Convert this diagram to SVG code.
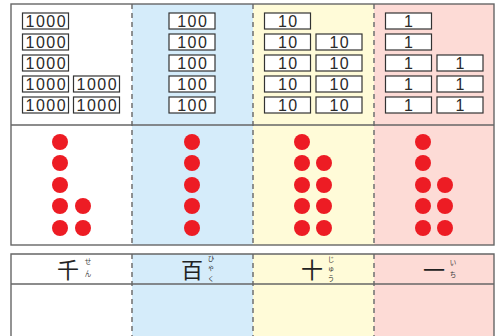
<svg xmlns="http://www.w3.org/2000/svg" width="496" height="336" viewBox="0 0 496 336">
<style>
.bx{fill:#fff;stroke:#333;stroke-width:1.2}
.num{font-family:"Liberation Sans",Arial,sans-serif;font-size:16px;fill:#2a2a2a;text-anchor:middle;letter-spacing:1.5px}
.dot{fill:#ed1c24}
.frame{fill:none;stroke:#666;stroke-width:1.4}
.dash{stroke:#777;stroke-width:1.6;stroke-dasharray:5 4;fill:none}
.kanji{font-family:"Noto Sans CJK JP",sans-serif;font-size:22px;fill:#222;text-anchor:middle}
.furi{font-family:"Noto Sans CJK JP",sans-serif;font-size:6.5px;fill:#333;text-anchor:middle}
</style>
<defs>
<rect id="b" class="bx" width="46" height="16"/>
<circle id="d" class="dot" r="8"/>
</defs>
<rect width="496" height="336" fill="#fff"/>
<g id="fills">
<rect x="132" y="4" width="121" height="241" fill="#d5ecfa"/>
<rect x="253" y="4" width="121" height="241" fill="#fffbd8"/>
<rect x="374" y="4" width="120" height="241" fill="#fddbd6"/>
<rect x="132" y="254" width="121" height="82" fill="#d5ecfa"/>
<rect x="253" y="254" width="121" height="82" fill="#fffbd8"/>
<rect x="374" y="254" width="120" height="82" fill="#fddbd6"/>
</g>
<g id="connectors">
<line class="dash" x1="132" y1="4" x2="132" y2="245"/>
<line class="dash" x1="253" y1="4" x2="253" y2="245"/>
<line class="dash" x1="374" y1="4" x2="374" y2="245"/>
<line class="dash" x1="132" y1="254" x2="132" y2="336"/>
<line class="dash" x1="253" y1="254" x2="253" y2="336"/>
<line class="dash" x1="374" y1="254" x2="374" y2="336"/>
<rect class="frame" x="11" y="4" width="483" height="241"/>
<line class="frame" x1="11" y1="125" x2="494" y2="125"/>
<path class="frame" d="M11 336V254H494V336"/>
<line class="frame" x1="11" y1="284" x2="494" y2="284"/>
</g>
<g id="thousands">
<use href="#b" x="22.5" y="13"/><text class="num" x="46.3" y="27">1000</text>
<use href="#b" x="22.5" y="34"/><text class="num" x="46.3" y="48">1000</text>
<use href="#b" x="22.5" y="55"/><text class="num" x="46.3" y="69">1000</text>
<use href="#b" x="22.5" y="76"/><text class="num" x="46.3" y="90">1000</text>
<use href="#b" x="22.5" y="97"/><text class="num" x="46.3" y="111">1000</text>
<use href="#b" x="73.5" y="76"/><text class="num" x="97.3" y="90">1000</text>
<use href="#b" x="73.5" y="97"/><text class="num" x="97.3" y="111">1000</text>
<use href="#d" x="60" y="142"/><use href="#d" x="60" y="163"/><use href="#d" x="60" y="185"/><use href="#d" x="60" y="206"/><use href="#d" x="60" y="228"/>
<use href="#d" x="83" y="206"/><use href="#d" x="83" y="228"/>
<text class="kanji" x="68" y="278">千</text>
<text class="furi" x="88" y="264">せ</text>
<text class="furi" x="88" y="276">ん</text>
</g>
<g id="hundreds">
<use href="#b" x="169" y="13"/><text class="num" x="192.8" y="27">100</text>
<use href="#b" x="169" y="34"/><text class="num" x="192.8" y="48">100</text>
<use href="#b" x="169" y="55"/><text class="num" x="192.8" y="69">100</text>
<use href="#b" x="169" y="76"/><text class="num" x="192.8" y="90">100</text>
<use href="#b" x="169" y="97"/><text class="num" x="192.8" y="111">100</text>
<use href="#d" x="192" y="142"/><use href="#d" x="192" y="163"/><use href="#d" x="192" y="185"/><use href="#d" x="192" y="206"/><use href="#d" x="192" y="228"/>
<text class="kanji" x="192" y="278">百</text>
<text class="furi" x="211" y="261">ひ</text>
<text class="furi" x="211" y="270">ゃ</text>
<text class="furi" x="211" y="281">く</text>
</g>
<g id="tens">
<use href="#b" x="264.5" y="13"/><text class="num" x="288.3" y="27">10</text>
<use href="#b" x="264.5" y="34"/><text class="num" x="288.3" y="48">10</text>
<use href="#b" x="264.5" y="55"/><text class="num" x="288.3" y="69">10</text>
<use href="#b" x="264.5" y="76"/><text class="num" x="288.3" y="90">10</text>
<use href="#b" x="264.5" y="97"/><text class="num" x="288.3" y="111">10</text>
<use href="#b" x="316" y="34"/><text class="num" x="339.8" y="48">10</text>
<use href="#b" x="316" y="55"/><text class="num" x="339.8" y="69">10</text>
<use href="#b" x="316" y="76"/><text class="num" x="339.8" y="90">10</text>
<use href="#b" x="316" y="97"/><text class="num" x="339.8" y="111">10</text>
<use href="#d" x="302" y="142"/><use href="#d" x="302" y="163"/><use href="#d" x="302" y="185"/><use href="#d" x="302" y="206"/><use href="#d" x="302" y="228"/>
<use href="#d" x="324" y="163"/><use href="#d" x="324" y="185"/><use href="#d" x="324" y="206"/><use href="#d" x="324" y="228"/>
<text class="kanji" x="312" y="278">十</text>
<text class="furi" x="331" y="262">じ</text>
<text class="furi" x="331" y="271">ゅ</text>
<text class="furi" x="331" y="281">う</text>
</g>
<g id="ones">
<use href="#b" x="385.5" y="13"/><text class="num" x="409.3" y="27">1</text>
<use href="#b" x="385.5" y="34"/><text class="num" x="409.3" y="48">1</text>
<use href="#b" x="385.5" y="55"/><text class="num" x="409.3" y="69">1</text>
<use href="#b" x="385.5" y="76"/><text class="num" x="409.3" y="90">1</text>
<use href="#b" x="385.5" y="97"/><text class="num" x="409.3" y="111">1</text>
<use href="#b" x="437" y="55"/><text class="num" x="460.8" y="69">1</text>
<use href="#b" x="437" y="76"/><text class="num" x="460.8" y="90">1</text>
<use href="#b" x="437" y="97"/><text class="num" x="460.8" y="111">1</text>
<use href="#d" x="423" y="142"/><use href="#d" x="423" y="163"/><use href="#d" x="423" y="185"/><use href="#d" x="423" y="206"/><use href="#d" x="423" y="228"/>
<use href="#d" x="445" y="185"/><use href="#d" x="445" y="206"/><use href="#d" x="445" y="228"/>
<text class="kanji" x="434" y="278">一</text>
<text class="furi" x="453" y="265">い</text>
<text class="furi" x="453" y="277">ち</text>
</g>
</svg>
